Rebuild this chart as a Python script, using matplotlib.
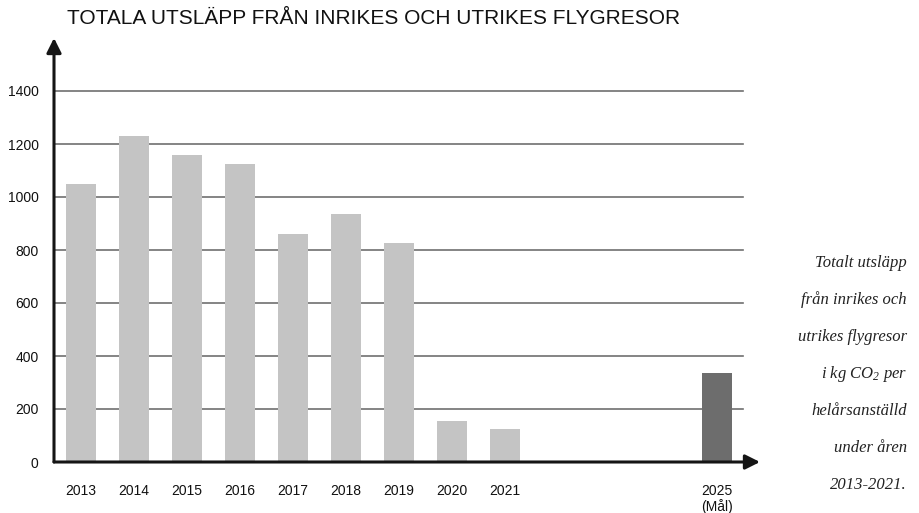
import matplotlib.pyplot as plt

plt.rcParams["mathtext.fontset"] = "custom"
plt.rcParams["mathtext.rm"] = "Liberation Serif:italic"
plt.rcParams["mathtext.it"] = "Liberation Serif:italic"

# Data (kg CO2 per full-time employee)
years = [2013, 2014, 2015, 2016, 2017, 2018, 2019, 2020, 2021, 2025]
year_labels = ["2013", "2014", "2015", "2016", "2017", "2018", "2019",
               "2020", "2021", "2025\n(Mål)"]
emissions = [1050, 1230, 1158, 1125, 860, 936, 826, 155, 125, 336]
y_ticks = [0, 200, 400, 600, 800, 1000, 1200, 1400]

title = "TOTALA UTSLÄPP FRÅN INRIKES OCH UTRIKES FLYGRESOR"
side_lines = ["Totalt utsläpp", "från inrikes och", "utrikes flygresor",
              "i kg CO$_2$ per", "helårsanställd", "under åren", "2013-2021."]

W, H = 919, 513
fig = plt.figure(figsize=(W / 100, H / 100), dpi=100)

# axes placed in pixel terms: y-axis at x=54px, baseline at y=462px
left_px, right_px, bottom_px, top_px = 54, 760, 462, 38
ax = fig.add_axes([left_px / W, 1 - bottom_px / H,
                   (right_px - left_px) / W, (bottom_px - top_px) / H])

x0 = years[0]
pos = [y - x0 for y in years]
xmin, xmax = -0.51, 12.81
ax.set_xlim(xmin, xmax)
ax.set_ylim(0, 1600)

colors = ["#c4c4c4"] * (len(years) - 1) + ["#6d6d6d"]

# grid lines
for t in y_ticks[1:]:
    ax.plot([xmin, 12.49], [t, t], color="#707070", lw=1.2, zorder=1)

ax.bar(pos, emissions, width=0.57, color=colors, zorder=2)

for s in ax.spines.values():
    s.set_visible(False)

# axes with arrows
ax.annotate("", xy=(xmin, 1600), xytext=(xmin, 0),
            arrowprops=dict(arrowstyle="-|>", lw=2.2, color="#151515",
                            mutation_scale=22, shrinkA=0, shrinkB=0),
            annotation_clip=False, zorder=3)
ax.annotate("", xy=(xmax, 0), xytext=(xmin, 0),
            arrowprops=dict(arrowstyle="-|>", lw=2.2, color="#151515",
                            mutation_scale=22, shrinkA=0, shrinkB=0),
            annotation_clip=False, zorder=3)

ax.set_yticks(y_ticks)
ax.set_yticklabels([str(t) for t in y_ticks], fontsize=10,
                   family="Liberation Sans", color="#111111")
ax.set_xticks(pos)
ax.set_xticklabels(year_labels, fontsize=10, family="Liberation Sans",
                   color="#111111", linespacing=1.05, va="top")
ax.tick_params(axis="y", length=0, pad=11)
ax.tick_params(axis="x", length=0, pad=16)

fig.text(67 / W, 1 - 19 / H, title, fontsize=15, family="Liberation Sans",
         color="#111111", ha="left", va="center")

for i, line in enumerate(side_lines):
    fig.text(907 / W, 1 - (263 + i * 37) / H, line, fontsize=12,
             family="Liberation Serif", style="italic", color="#222222",
             ha="right", va="center")

fig.savefig("out.png", dpi=100)
